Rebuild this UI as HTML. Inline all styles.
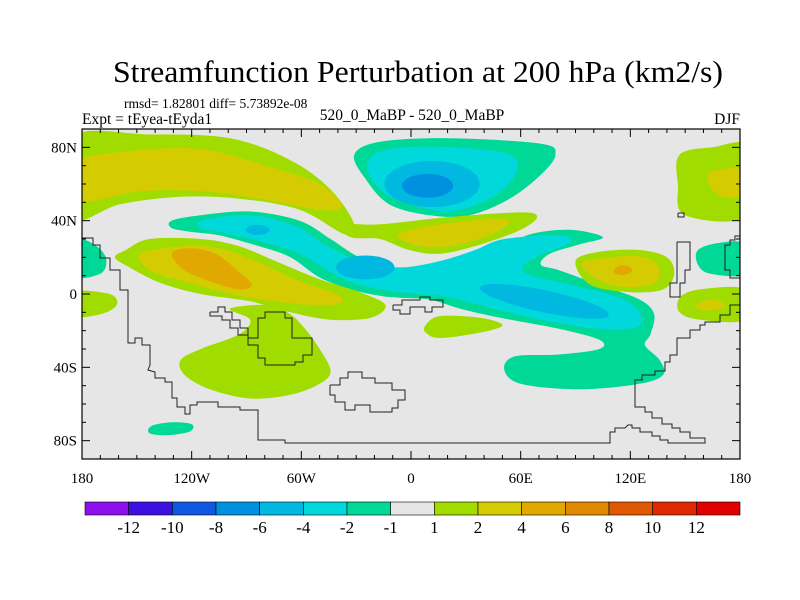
<!DOCTYPE html>
<html><head><meta charset="utf-8"><style>
html,body{margin:0;padding:0;background:#fff;}
svg{display:block;font-family:"Liberation Serif",serif;}
</style></head><body>
<svg id="chart" width="800" height="600" viewBox="0 0 800 600">
<text x="418" y="82" text-anchor="middle" font-size="31" textLength="610" lengthAdjust="spacingAndGlyphs">Streamfunction Perturbation at 200 hPa (km2/s)</text>
<text x="124" y="108" font-size="13.5">rmsd= 1.82801 diff= 5.73892e-08</text>
<text x="82" y="124" font-size="15.5">Expt = tEyea-tEyda1</text>
<text x="412" y="120" text-anchor="middle" font-size="15.5">520_0_MaBP - 520_0_MaBP</text>
<text x="740" y="124" text-anchor="end" font-size="15.5">DJF</text>
<defs><clipPath id="pc"><rect x="82" y="129" width="658" height="330"/></clipPath></defs>
<rect x="82" y="129" width="658" height="330" fill="#e6e6e6"/>
<g id="fills" clip-path="url(#pc)"></g>
<g id="coast" clip-path="url(#pc)" fill="none" stroke="#222" stroke-width="1"></g>
<rect x="82" y="129" width="658" height="330" fill="none" stroke="#000" stroke-width="1.2"/>
<g id="axes"></g>
<g id="cbar"></g>
</svg>
<script>
// ---- data ----
const cbarLevels = ["-12","-10","-8","-6","-4","-2","-1","1","2","4","6","8","10","12"];
const cbarColors = ["#8c10ec","#3c10e0","#1058e0","#0090e0","#00b8e0","#00d8dc","#00d898","#e6e6e6","#a0dc00","#d4cc00","#e0a800","#e08800","#e05800","#e02800","#e00000"];
const xTickLons = [-180,-120,-60,0,60,120,180];
const xTickLabels = ["180","120W","60W","0","60E","120E","180"];
const yTickLats = [80,40,0,-40,-80];
const yTickLabels = ["80N","40N","0","40S","80S"];
// filled contour regions: [colour index, polygon lon/lat points]
const blobLevels = [8,9,6,5,8,9,6,5,8,9,10,8,8,8,9,10,6,8,6,8,8,9,6,9];
const blobShapes = [
 [[-187,85],[-143,87],[-99,85],[-66,73],[-44,57],[-31,38],[-36,32.5],[-61,46],[-94,52],[-126,53],[-159,49],[-187,41]],
 [[-187,71],[-154,78],[-115,79],[-83,71],[-50,60],[-38,48],[-50,46],[-83,52],[-115,56],[-148,56],[-187,50]],
 [[-31,76],[-17,83],[21,85],[71,82],[79,76],[71,65],[54,52],[32,43],[10,43],[-12,49],[-25,63]],
 [[-24,71],[-12,79],[21,80],[54,76],[57,65],[43,52],[21,45],[-1,49],[-17,57]],
 [[-39,38],[-17,38],[21,42],[60,44.5],[69,42],[60,35],[38,27],[16,22],[-1,24],[-17,30],[-33,31]],
 [[-7,32.5],[16,38],[51,41],[49,35],[27,27],[5,26]],
 [[-131,40],[-115,43],[-88,45],[-61,40],[-44,30],[-28,20],[-6,13],[16,12],[32,16],[49,24],[65,32.5],[87,35],[105,31],[92,27],[76,22],[71,16],[81,13],[103,5],[125,-3],[133,-11],[131,-22],[128,-28],[136,-36],[138,-44],[125,-49],[92,-52],[60,-49],[51,-41],[57,-34],[81,-33],[103,-30],[103,-25],[81,-19],[49,-13],[27,-8],[10,-3],[-6,-2],[-17,-1],[-33,2.5],[-50,9],[-66,20],[-83,26],[-105,32],[-121,34],[-131,36]],
 [[-115,40],[-88,43],[-63,37],[-47,27],[-28,18],[-6,14.5],[16,18],[35,24],[51,30],[81,32],[87,28],[68,20],[62,12],[87,5],[114,-2],[125,-10],[124,-18],[103,-19],[71,-14],[38,-6],[16,-1],[-6,1],[-28,5],[-44,12],[-61,22],[-83,29],[-105,34],[-115,36]],
 [[-156,24],[-143,30],[-115,30],[-94,26],[-72,17],[-50,8],[-28,1],[-14,-6],[-22,-13],[-44,-14],[-66,-10],[-88,-4],[-115,0],[-137,6],[-154,14.5],[-162,20]],
 [[-148,22],[-126,26],[-105,25],[-83,17],[-61,7],[-39,-1],[-42,-6],[-66,-5],[-94,-1],[-121,6],[-143,13]],
 [[-131,22],[-121,25],[-107,22],[-94,12],[-87,5],[-94,2.5],[-110,7],[-124,13]],
 [[-99,-8],[-77,-6],[-66,-11],[-58,-19],[-50,-30],[-44,-42],[-50,-49],[-66,-55],[-88,-57],[-110,-52],[-124,-44],[-126,-36],[-115,-30],[-94,-22],[-88,-14]],
 [[8,-17],[16,-12],[38,-13],[50,-17],[38,-21],[16,-24],[8,-21]],
 [[90,18],[103,23],[125,24],[140,20],[144,11],[138,2.5],[120,1],[98,5]],
 [[93,16],[109,20],[128,20],[136,13],[131,5],[109,5]],
 [[113,15],[118,15.5],[121,13],[117,10.5],[111,11.5]],
 [[157,24],[169,28],[183,27],[183,11],[164,11],[157,16]],
 [[147,-2],[158,2.5],[183,2.5],[183,-14],[158,-14],[147,-10]],
 [[-187,30],[-175,28],[-167,20],[-170,11],[-187,10]],
 [[-187,1],[-165,0],[-161,-6],[-170,-11],[-187,-12]],
 [[147,76],[165,80],[185,80],[185,43],[150,43],[146,60]],
 [[163,66],[185,68],[185,54],[168,54]],
 [[-142,-72],[-131,-70],[-120,-71],[-121,-75],[-133,-77],[-143,-76]],
 [[157,-5],[165,-3],[172,-6],[165,-9],[157,-8]]
];
// small closed ellipses: colour index, centre lon/lat, radii, rotation
const ellLevels = [4,3,4,4,4];
const ellCenters = [[11.5,60],[9,59],[-84,35],[-25,14.5],[73,-4]];
const ellRadii = [[26,12.6],[14,6.5],[6.5,2.7],[16,6.5],[36,6]];
const ellRot = [0,0,0,0,12];

// ---- axes ----
const X0=82,X1=740,Y0=129,Y1=459;
const xs = lon => X0 + (lon+180)/360*(X1-X0);
const ys = lat => Y0 + (90-lat)/180*(Y1-Y0);
const NS="http://www.w3.org/2000/svg";
function mk(tag, attrs, parent){const e=document.createElementNS(NS,tag);for(const k in attrs)e.setAttribute(k,attrs[k]);parent.appendChild(e);return e;}
function smooth(pts){
 const n=pts.length;let d=`M${pts[0][0]},${pts[0][1]}`;
 for(let i=0;i<n;i++){const p0=pts[(i-1+n)%n],p1=pts[i],p2=pts[(i+1)%n],p3=pts[(i+2)%n];
  const c1=[p1[0]+(p2[0]-p0[0])/6,p1[1]+(p2[1]-p0[1])/6],c2=[p2[0]-(p3[0]-p1[0])/6,p2[1]-(p3[1]-p1[1])/6];
  d+=`C${c1[0].toFixed(1)},${c1[1].toFixed(1)} ${c2[0].toFixed(1)},${c2[1].toFixed(1)} ${p2[0].toFixed(1)},${p2[1].toFixed(1)}`;}
 return d+"Z";}
const fills=document.getElementById('fills');
blobShapes.forEach((shape,i)=>{
 const p=mk('path',{d:smooth(shape.map(q=>[xs(q[0]),ys(q[1])])),fill:cbarColors[blobLevels[i]]},fills);
 
 
});
ellCenters.forEach((c,i)=>{
 const cx=xs(c[0]),cy=ys(c[1]);
 const e=mk('ellipse',{cx:cx,cy:cy,rx:xs(c[0]+ellRadii[i][0])-cx,ry:ys(c[1]-ellRadii[i][1])-cy,fill:cbarColors[ellLevels[i]],transform:`rotate(${ellRot[i]} ${cx} ${cy})`},fills);
 
 
});
// coastlines (approximate stepped outlines, pixel space)
const coastLines=[
 "82,238 93,238 93,245 100,245 100,258 110,258 110,270 120,270 120,290 128,290 128,343 135,343 135,338 142,338 142,345 150,345 150,365 148,370 155,372 155,378 165,378 165,382 172,382 172,398 177,398 177,407 185,407 185,414 190,414 190,405 197,405 197,402 218,402 218,407 240,407 240,410 258,410 258,440 285,440 285,443 610,443 610,432 615,432 615,428 625,428 628,425 632,425 632,428 640,428 640,432 652,432 652,436 660,436 660,440 668,440 668,443 705,443 705,438 690,438 690,432 680,432 680,428 672,428 672,424 662,424 662,418 652,418 652,412 645,412 645,407 635,407 635,380 642,380 642,375 655,375 655,371 665,371 665,362 670,362 670,355 677,355 677,338 690,338 690,330 700,330 700,325 705,325 705,322 720,322 720,315 730,315 730,305 740,305",
 "210,312 218,312 218,307 225,307 225,312 232,312 232,320 240,320 240,328 248,328 248,338 258,338 258,318 265,318 265,312 285,312 285,318 292,318 292,338 312,338 312,355 303,355 303,362 295,362 295,365 265,365 265,358 258,358 258,345 248,345 248,335 238,335 238,328 230,328 230,320 222,320 222,316 210,316 210,312",
 "393,305 402,305 402,300 420,300 420,297 430,297 430,300 443,300 443,307 432,307 432,312 425,312 425,307 410,307 410,314 400,314 400,310 393,310 393,305",
 "330,385 340,385 340,378 348,378 348,372 362,372 362,378 375,378 375,383 392,383 392,390 405,390 405,400 398,400 398,408 392,408 392,412 370,412 370,405 355,405 355,410 345,410 345,402 335,402 335,395 330,395 330,385",
 "677,242 690,242 690,270 685,270 685,283 680,283 680,297 670,297 670,283 677,283 677,242",
 "740,236 735,236 735,240 730,240 730,245 725,245 725,270 730,270 730,278 740,278",
 "678,213 684,213 684,217 678,217 678,213"
];
const coast=document.getElementById('coast');
coastLines.forEach((c,i)=>{const l=mk('polyline',{points:c},coast);
 
 });
// ticks & labels
const axes=document.getElementById('axes');
for(let lon=-180;lon<=180;lon+=10){
 const maj=lon%60===0,len=maj?8:4,x=xs(lon);
 mk('line',{x1:x,y1:Y1,x2:x,y2:Y1-len,stroke:'#000'},axes);
 mk('line',{x1:x,y1:Y0,x2:x,y2:Y0+len,stroke:'#000'},axes);}
for(let lat=-90;lat<=90;lat+=10){
 const maj=lat%40===0,len=maj?8:4,y=ys(lat);
 mk('line',{x1:X0,y1:y,x2:X0+len,y2:y,stroke:'#000'},axes);
 mk('line',{x1:X1,y1:y,x2:X1-len,y2:y,stroke:'#000'},axes);}
xTickLons.forEach((lon,i)=>{const t=mk('text',{x:xs(lon),y:483,'text-anchor':'middle','font-size':15},axes);t.textContent=xTickLabels[i];
 
 });
yTickLats.forEach((lat,i)=>{const t=mk('text',{x:77,y:ys(lat)+5,'text-anchor':'end','font-size':15},axes);t.textContent=yTickLabels[i];
 
 });
// colorbar
const cb=document.getElementById('cbar');const CB0=85,CB1=740,bw=(CB1-CB0)/cbarColors.length;
cbarColors.forEach((c,i)=>{const r=mk('rect',{x:CB0+i*bw,y:502,width:bw,height:13,fill:c,stroke:'#000','stroke-width':0.6},cb);
 
 });
cbarLevels.forEach((s,i)=>{const t=mk('text',{x:CB0+(i+1)*bw,y:533,'text-anchor':'middle','font-size':17},cb);t.textContent=s;
 
 });
</script>
</body></html>
